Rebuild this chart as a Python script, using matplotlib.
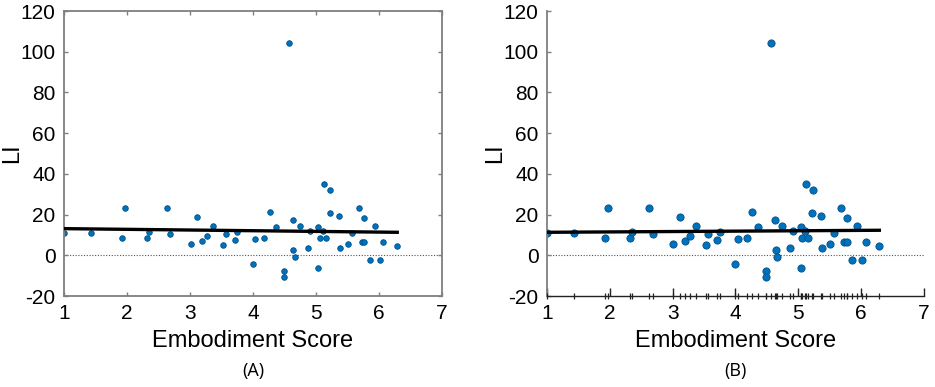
import numpy as np
import matplotlib
matplotlib.use("Agg")
import matplotlib.pyplot as plt

plt.rcParams['font.family'] = ['Liberation Sans', 'DejaVu Sans']
plt.rcParams['axes.unicode_minus'] = False

# embodiment score vs LI (same points in both panels)
score = [1.00, 1.43, 1.92, 1.97, 2.32, 2.35, 2.63, 2.69, 3.01, 3.11,
         3.19, 3.27, 3.37, 3.53, 3.57, 3.71, 3.75, 4.00, 4.04, 4.18,
         4.27, 4.36, 4.49, 4.49, 4.57, 4.63, 4.64, 4.66, 4.74, 4.87,
         4.91, 5.04, 5.04, 5.06, 5.11, 5.13, 5.16, 5.22, 5.23, 5.36,
         5.38, 5.51, 5.57, 5.68, 5.73, 5.77, 5.77, 5.86, 5.94, 6.01,
         6.07, 6.29]
li = [10.8, 10.8, 8.5, 23.3, 8.7, 11.3, 23.1, 10.3, 5.7, 19.0,
      6.9, 9.3, 14.4, 5.2, 10.3, 7.4, 11.3, -4.4, 8.0, 8.5,
      21.5, 13.8, -7.5, -10.5, 104.1, 17.5, 2.5, -1.0, 14.4, 3.4,
      11.8, 14.1, -6.2, 8.5, 11.8, 35.2, 8.5, 21.0, 32.3, 19.5,
      3.4, 5.7, 10.8, 23.3, 6.7, 6.7, 18.3, -2.3, 14.4, -2.5,
      6.5, 4.4]

# fitted line values at x = 1 and x = max score
fit_a = [13.1, 11.3]
fit_b = [11.3, 12.3]

blue = '#0072BD'
edge = '#004f85'
gray = '#7f7f7f'

fig = plt.figure(figsize=(9.35, 3.87), dpi=100)
ax_a = fig.add_axes([0.0684, 0.2351, 0.4043, 0.7364])
ax_b = fig.add_axes([0.585, 0.2351, 0.4032, 0.7364])

x_ends = [min(score), max(score)]

for ax, fit, ms, label in [(ax_a, fit_a, 4.0, '(A)'), (ax_b, fit_b, 5.2, '(B)')]:
    ax.axhline(0, color='#555555', lw=0.8, ls=(0, (1, 1.5)), zorder=1)
    ax.plot(score, li, 'o', ms=ms, mfc=blue, mec=edge, mew=0.6, zorder=2)
    ax.plot(x_ends, fit, color='black', lw=2.4, zorder=3)
    ax.set_xlim(1, 7)
    ax.set_ylim(-20, 120)
    ax.set_xticks(range(1, 8))
    ax.set_yticks(range(-20, 121, 20))
    ax.tick_params(direction='in', length=3, labelsize=15, pad=6,
                   color=gray, width=1)
    ax.set_xlabel('Embodiment Score', fontsize=17)
    ax.xaxis.set_label_coords(0.5, -0.118)
    ax.set_ylabel('LI', fontsize=17)
    ax.yaxis.set_label_coords(-0.108, 0.5)
    ax.text(0.5, -0.263, label, transform=ax.transAxes, ha='center',
            va='center', fontsize=13, family=['Open Sans', 'DejaVu Sans'])

# panel A: full grey box
for sp in ax_a.spines.values():
    sp.set_color(gray)
    sp.set_linewidth(1.3)
ax_a.tick_params(top=True, right=True)

# panel B: only left/bottom, rug ticks along the x axis
ax_b.spines['top'].set_visible(False)
ax_b.spines['right'].set_visible(False)
ax_b.spines['left'].set_color(gray)
ax_b.spines['left'].set_linewidth(1.3)
ax_b.spines['bottom'].set_color('#222222')
ax_b.spines['bottom'].set_linewidth(1.0)
ax_b.tick_params(axis='x', color='#222222', length=6)
ax_b.plot(score, np.full(len(score), -20), '|', color='#222222', ms=5,
          mew=0.9, clip_on=False, zorder=4)

fig.savefig('out.png', dpi=100)
